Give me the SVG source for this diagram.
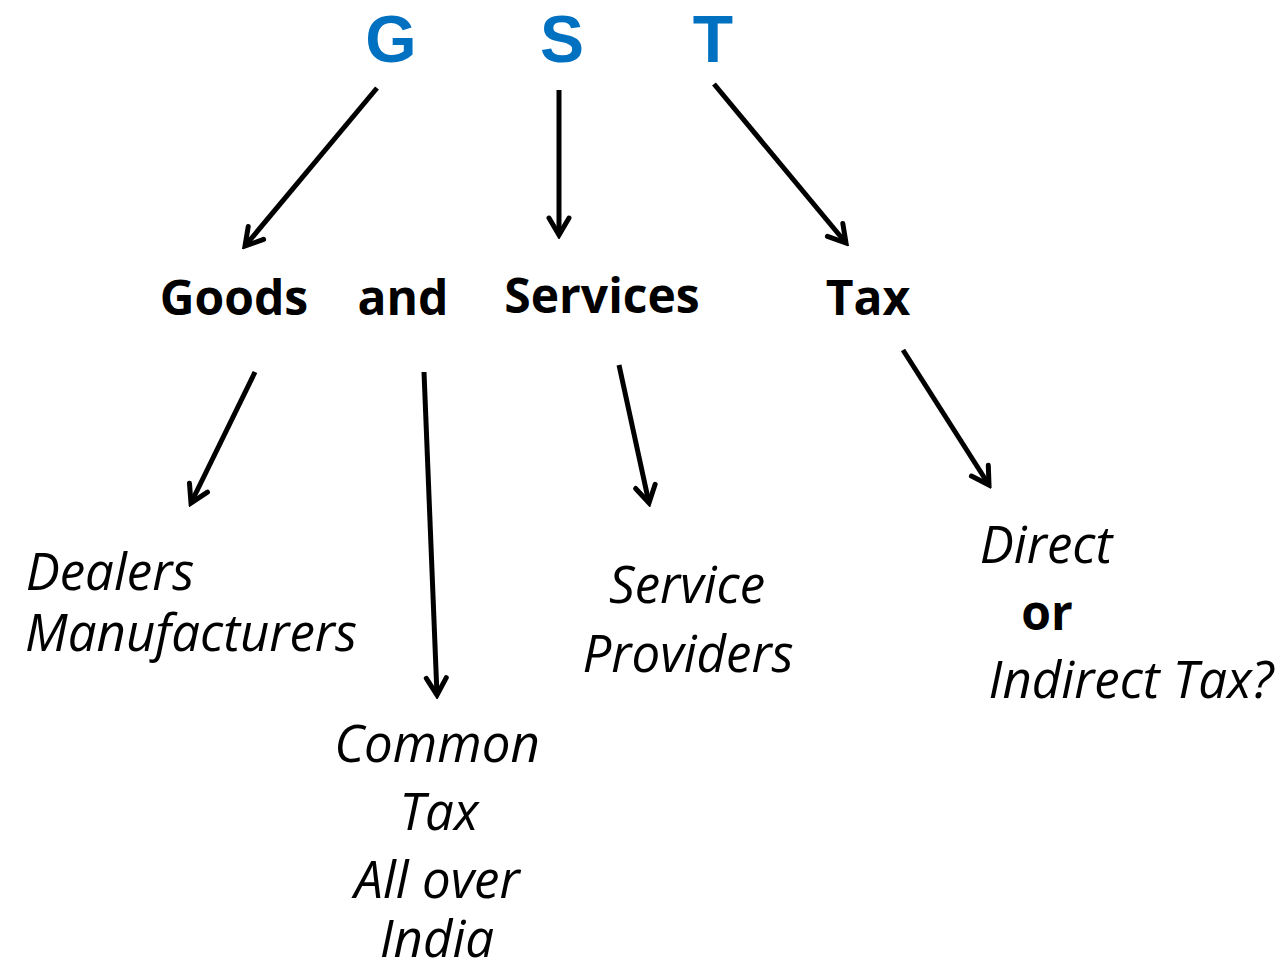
<svg xmlns="http://www.w3.org/2000/svg" width="1286" height="970" viewBox="0 0 1286 970">
<style>
.t{font-family:"Open Sans","Liberation Sans",sans-serif;}
.g{font-family:"Liberation Sans","Open Sans",sans-serif;font-weight:bold;font-size:66px;fill:#0070C0;text-anchor:middle;}
.b{font-weight:bold;font-size:48px;fill:#000;text-anchor:middle;}
.i{font-style:italic;font-size:51px;fill:#000;text-anchor:middle;}
.c{stroke:#000;stroke-width:5;fill:none;stroke-linecap:butt;marker-end:url(#ah);}
</style>
<defs>
<marker id="ah" markerUnits="userSpaceOnUse" viewBox="-24 -14 28 28" markerWidth="28" markerHeight="28" refX="0" refY="0" orient="auto">
<path d="M-17,-10 L0,0 L-17,10" fill="none" stroke="#000" stroke-width="5" stroke-linejoin="miter" stroke-linecap="round"/>
</marker>
</defs>
<rect width="1286" height="970" fill="#fff"/>
<g id="gst">
<text class="g" x="391" y="62">G</text>
<text class="g" x="562" y="62">S</text>
<text class="g" x="713" y="62">T</text>
</g>
<g id="goods"><text class="t b" x="234" y="315">Goods</text></g>
<g id="and"><text class="t b" x="403" y="315">and</text></g>
<g id="services"><text class="t b" x="602" y="313">Services</text></g>
<g id="tax"><text class="t b" x="868" y="315">Tax</text></g>
<g id="dealers">
<text class="t i" x="110" y="590">Dealers</text>
<text class="t i" x="191" y="651">Manufacturers</text>
</g>
<g id="common">
<text class="t i" x="437" y="762">Common</text>
<text class="t i" x="439" y="830">Tax</text>
<text class="t i" x="437" y="898">All over</text>
<text class="t i" x="437" y="957">India</text>
</g>
<g id="provider">
<text class="t i" x="687" y="603">Service</text>
<text class="t i" x="688" y="672">Providers</text>
</g>
<g id="direct">
<text class="t i" x="1046" y="563">Direct</text>
<text class="t b" x="1047" y="630" style="font-size:48px">or</text>
<text class="t i" x="1131" y="698">Indirect Tax?</text>
</g>
<g id="connectors">
<line class="c" x1="377" y1="88" x2="245" y2="246"/>
<line class="c" x1="559" y1="90" x2="559" y2="235"/>
<line class="c" x1="714" y1="84" x2="846" y2="243"/>
<line class="c" x1="255" y1="372" x2="191" y2="503"/>
<line class="c" x1="424" y1="372" x2="437" y2="695"/>
<line class="c" x1="619" y1="365" x2="649" y2="503"/>
<line class="c" x1="903" y1="350" x2="989" y2="485"/>
</g>
</svg>
